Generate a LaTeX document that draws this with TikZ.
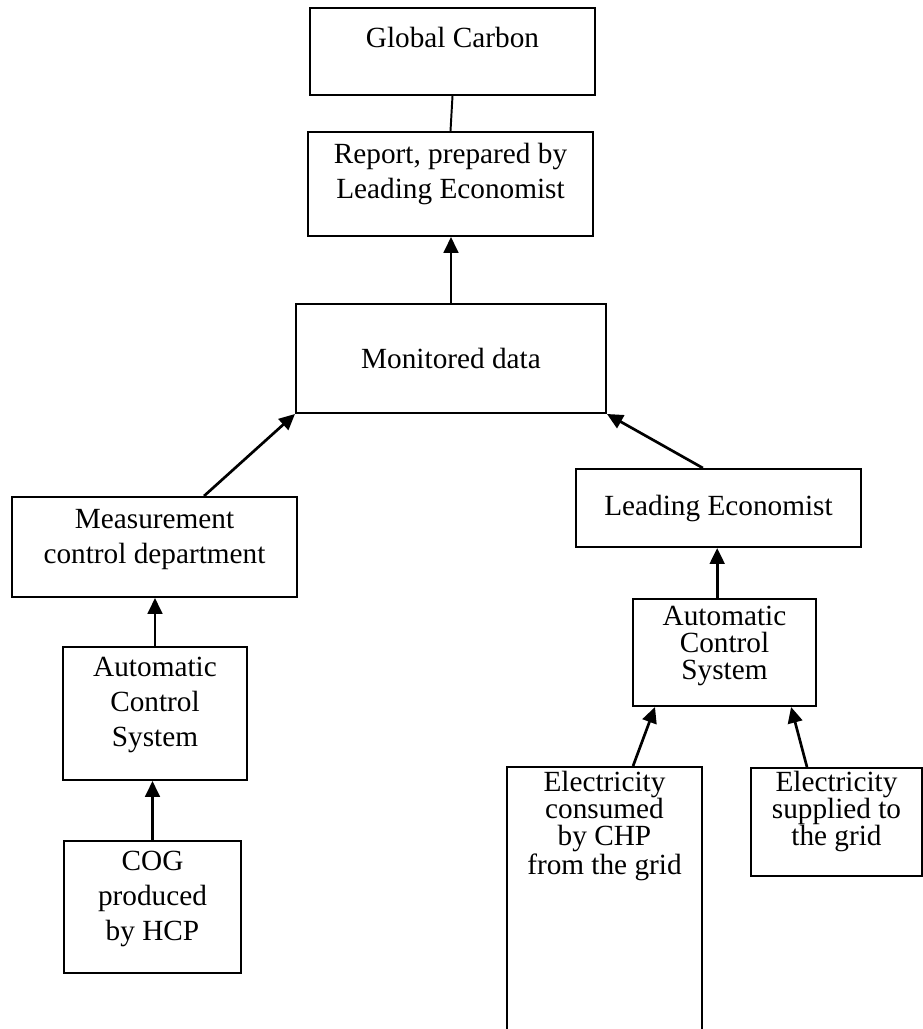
\documentclass[tikz,border=0pt]{standalone}
\usepackage{fontspec}
\setmainfont{Liberation Serif}
\usetikzlibrary{arrows.meta}

\begin{document}
\begin{tikzpicture}[x=0.41pt, y=-0.41pt,
    every node/.style={font=\fontsize{12}{14.4}\selectfont},
    blk/.style 2 args={draw, line width=0.8pt, inner sep=0pt, align=center,
      minimum width=#1*0.41pt, minimum height=#2*0.41pt},
    tight/.style={font=\fontsize{12}{11}\selectfont},
    feed/.style={line width=1.1pt, -{Triangle[length=6.5pt,width=6pt]}}]
  \useasboundingbox (0,0) rectangle (923,1029);
  % top of the chain
  \node[blk={285}{87}] (carbon) at (452.5,51.5) {Global Carbon\\[-2.4pt]\mbox{}};
  \node[blk={285}{104}] (report) at (450.5,184) {Report, prepared by\\Leading Economist\\[-3.4pt]\mbox{}};
  \node[blk={310}{109}] (monitor) at (451,358.5) {Monitored data};
  % left branch
  \node[blk={285}{100}] (measure) at (154.5,547) {Measurement\\control department\\[-5.8pt]\mbox{}};
  \node[blk={184}{133}] (acsleft) at (155,713.5) {Automatic\\Control\\System\\[-4.6pt]\mbox{}};
  \node[blk={177}{132}] (cog) at (152.5,907) {COG\\produced\\by HCP\\[-5pt]\mbox{}};
  % right branch
  \node[blk={285}{78}] (econ) at (718.5,508) {Leading Economist};
  \node[blk={183}{107}, tight] (acsright) at (724.5,652.5) {Automatic\\Control\\System\\[-3pt]\mbox{}};
  \node[blk={195}{275}, tight] (consumed) at (604.5,904.5) {Electricity\\consumed\\by CHP\\from the grid\\[55.8pt]\mbox{}};
  \node[blk={171}{108}, tight] (supplied) at (836.5,822) {Electricity\\supplied to\\the grid\\[0.4pt]\mbox{}};

  \draw[line width=0.8pt] (report.north) -- (carbon.south);
  \draw[feed] (monitor.north) -- (monitor.north |- report.south);
  \draw[feed] ([xshift=20.3pt]measure.north) -- (monitor.south west);
  \draw[feed] ([xshift=-6.4pt]econ.north) -- (monitor.south east);
  \draw[feed] (acsleft.north) -- (acsleft.north |- measure.south);
  \draw[feed] (cog.north) -- (cog.north |- acsleft.south);
  \draw[feed] ([xshift=-3pt]acsright.north) -- ([xshift=-3pt]acsright.north |- econ.south);
  \draw[feed] ([xshift=11.7pt]consumed.north) -- ([xshift=-28.5pt]acsright.south);
  \draw[feed] ([xshift=-12.1pt]supplied.north) -- ([xshift=27.3pt]acsright.south);
\end{tikzpicture}
\end{document}
